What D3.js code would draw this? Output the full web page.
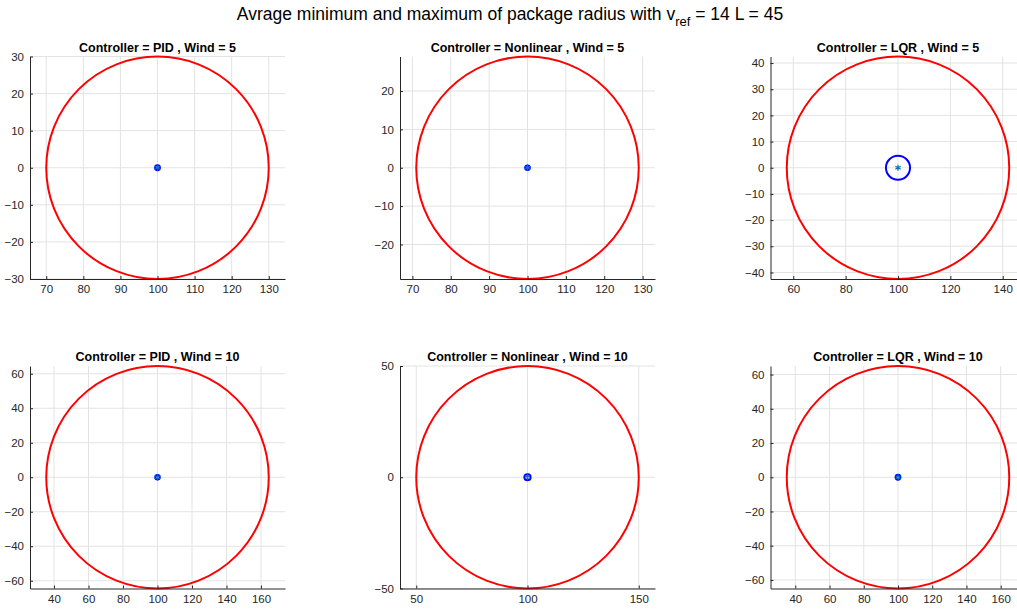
<!DOCTYPE html>
<html>
<head>
<meta charset="utf-8">
<script src="https://cdn.jsdelivr.net/npm/d3@7"></script>
<style>
  html, body { margin: 0; padding: 0; background: #fff; }
  svg { display: block; font-family: "Liberation Sans", Arial, Helvetica, sans-serif; }
</style>
</head>
<body>
<svg id="chart" width="1017" height="612"></svg>
<script>
// Controllers (columns) and wind levels (rows)
const controllers = ["PID", "Nonlinear", "LQR"];
const winds = [5, 10];

// Package position centre (x, y)
const centerX = 100;
const centerY = 0;

// Average maximum radius per wind row, controller column
const maxRadius = [
  [30, 29, 42.5],
  [64.5, 50, 65]
];
// Average minimum radius per wind row, controller column
const minRadius = [
  [0.65, 0.6, 4.6],
  [1.3, 1.4, 1.4]
];

// Tick values per panel
const xTicks = [
  [[70, 80, 90, 100, 110, 120, 130], [70, 80, 90, 100, 110, 120, 130], [60, 80, 100, 120, 140]],
  [[40, 60, 80, 100, 120, 140, 160], [50, 100, 150], [40, 60, 80, 100, 120, 140, 160]]
];
const yTicks = [
  [[-30, -20, -10, 0, 10, 20, 30], [-20, -10, 0, 10, 20], [-40, -30, -20, -10, 0, 10, 20, 30, 40]],
  [[-60, -40, -20, 0, 20, 40, 60], [-50, 0, 50], [-60, -40, -20, 0, 20, 40, 60]]
];

const vRef = 14;
const lengthL = 45;

// Layout of the plot boxes
const colLeft = [30, 400, 770.5];
const rowTop = [56.5, 366];
const boxW = 255;
const boxH = 222.5;

const svg = d3.select("#chart");
const axisColor = "#262626";
const gridColor = "#e3e3e3";

// Figure title with subscript
const title = svg.append("text")
  .attr("x", 510)
  .attr("y", 20)
  .attr("text-anchor", "middle")
  .attr("font-size", 17.5)
  .attr("fill", "#000");
title.append("tspan").text("Avrage minimum and maximum of package radius with v");
title.append("tspan").attr("dy", 6).attr("font-size", 13).text("ref");
title.append("tspan").attr("dy", -6).text(` = ${vRef} L = ${lengthL}`);

winds.forEach((wind, r) => {
  controllers.forEach((ctrl, c) => {
    const left = colLeft[c];
    const top = rowTop[r];
    const R = maxRadius[r][c];

    // Equal data aspect: y spans the maximum radius, x widened to fill the box
    const pxPerUnit = boxH / (2 * R);
    const halfX = (boxW / 2) / pxPerUnit;
    const x = d3.scaleLinear().domain([centerX - halfX, centerX + halfX]).range([0, boxW]);
    const y = d3.scaleLinear().domain([centerY - R, centerY + R]).range([boxH, 0]);

    const g = svg.append("g").attr("transform", `translate(${left},${top})`);

    // Grid
    g.append("g").selectAll("line").data(xTicks[r][c]).join("line")
      .attr("x1", d => x(d)).attr("x2", d => x(d))
      .attr("y1", 0).attr("y2", boxH)
      .attr("stroke", gridColor).attr("stroke-width", 1);
    g.append("g").selectAll("line").data(yTicks[r][c]).join("line")
      .attr("x1", 0).attr("x2", boxW)
      .attr("y1", d => y(d)).attr("y2", d => y(d))
      .attr("stroke", gridColor).attr("stroke-width", 1);

    // Maximum radius (red)
    g.append("ellipse")
      .attr("cx", x(centerX)).attr("cy", y(centerY))
      .attr("rx", x(centerX + R) - x(centerX))
      .attr("ry", y(centerY) - y(centerY + R))
      .attr("fill", "none").attr("stroke", "#ff0000").attr("stroke-width", 2);

    // Minimum radius (blue)
    const rMin = minRadius[r][c];
    g.append("ellipse")
      .attr("cx", x(centerX)).attr("cy", y(centerY))
      .attr("rx", x(centerX + rMin) - x(centerX))
      .attr("ry", y(centerY) - y(centerY + rMin))
      .attr("fill", "none").attr("stroke", "#0000ff").attr("stroke-width", 2);

    // Centre marker
    g.append("path")
      .attr("transform", `translate(${x(centerX)},${y(centerY)})`)
      .attr("d", d3.symbol(d3.symbolAsterisk, 26)())
      .attr("fill", "none").attr("stroke", "#0072BD").attr("stroke-width", 1.2);

    // Axes with inward ticks
    const xAxis = d3.axisBottom(x).tickValues(xTicks[r][c]).tickSizeInner(-3).tickSizeOuter(0).tickPadding(6);
    const yAxis = d3.axisLeft(y).tickValues(yTicks[r][c]).tickSizeInner(-3).tickSizeOuter(0).tickPadding(6);

    const gx = g.append("g").attr("transform", `translate(0,${boxH})`).call(xAxis);
    const gy = g.append("g").call(yAxis);
    [gx, gy].forEach(a => {
      a.select(".domain").attr("stroke", axisColor).attr("stroke-width", 1);
      a.selectAll(".tick line").attr("stroke", axisColor);
      a.selectAll(".tick text").attr("fill", axisColor).attr("font-size", 11.5)
        .attr("font-family", "Liberation Sans, Arial, sans-serif");
    });

    // Panel title
    g.append("text")
      .attr("x", boxW / 2).attr("y", -5)
      .attr("text-anchor", "middle")
      .attr("font-size", 12.5)
      .attr("font-weight", "bold")
      .attr("fill", "#000")
      .text(`Controller = ${ctrl} , Wind = ${wind}`);
  });
});
</script>
</body>
</html>
